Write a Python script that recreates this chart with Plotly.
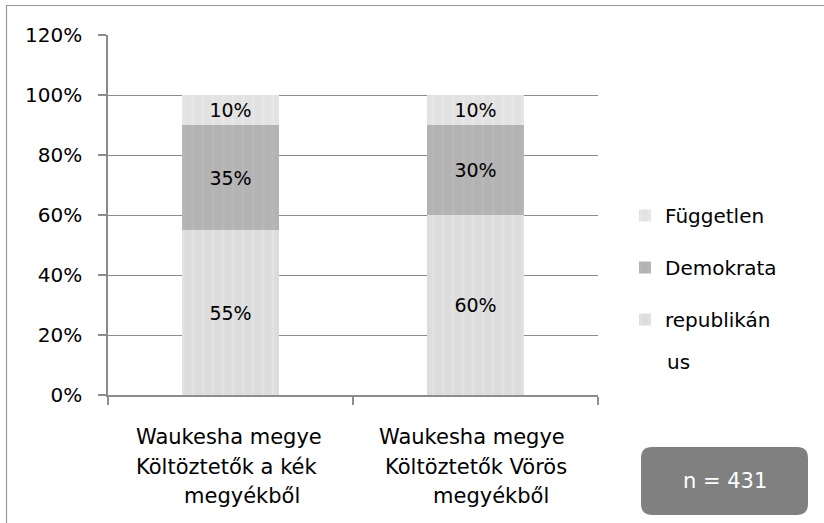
import plotly.graph_objects as go

# ---- data ----
categories = ["kek", "voros"]
label_lines = [
    ["Waukesha megye", "Költöztetők a kék", "megyékből"],
    ["Waukesha megye", "Költöztetők Vörös", "megyékből"],
]
label_shifts = [[-1.5, -4.5, 11.5], [-3.5, 0.5, 15.5]]
republikanus = [55, 60]
demokrata = [35, 30]
fuggetlen = [10, 10]
y_ticks = [0, 0.2, 0.4, 0.6, 0.8, 1.0, 1.2]
n_text = "n = 431"

FONT = "DejaVu Sans"
W, H = 824, 523
L, R, T, B = 108, 598, 35, 395  # plot area in px


def px_x(px):
    return (px - L) / (R - L)


def px_y(py):
    return (B - py) / (B - T)


series = [
    ("Független", fuggetlen, "#e2e2e2", "#ececec"),
    ("Demokrata", demokrata, "#b3b3b3", "#bcbcbc"),
    ("republikán", republikanus, "#dcdcdc", "#e7e7e7"),
]

fig = go.Figure()
for i, (name, vals, col, fg) in enumerate(series[::-1]):
    fig.add_trace(go.Bar(
        x=categories,
        y=[v / 100 for v in vals],
        name=name,
        legendgroup=name,
        legendrank=3 - i,
        text=[f"{v}%" for v in vals],
        textposition="inside",
        insidetextanchor="middle",
        textangle=0,
        textfont=dict(family=FONT, size=19, color="#000000"),
        marker=dict(color=col, line=dict(width=0),
                    pattern=dict(shape="|", fgcolor=fg, size=10, solidity=0.3)),
        hoverinfo="skip",
    ))

annotations = []
for ci, lines in enumerate(label_lines):
    for li, line in enumerate(lines):
        annotations.append(dict(
            x=categories[ci], xref="x", y=px_y(437 + li * 29.5), yref="paper",
            text=line, showarrow=False, xshift=label_shifts[ci][li],
            font=dict(family=FONT, size=21, color="#000000"),
            xanchor="center", yanchor="middle",
        ))

# continuation of the wrapped legend label
annotations.append(dict(
    x=px_x(665), y=px_y(362), xref="paper", yref="paper", text="us",
    showarrow=False, xanchor="left", yanchor="middle",
    font=dict(family=FONT, size=20, color="#000000"),
))

# n = 431 box
bx0, by0, bx1, by1, r = 641, 447, 808, 515, 11
rx = r / (R - L)
ry = r / (B - T)
X0, X1, Y0, Y1 = px_x(bx0), px_x(bx1), px_y(by1), px_y(by0)
path = (f"M{X0+rx},{Y1} L{X1-rx},{Y1} Q{X1},{Y1} {X1},{Y1-ry} "
        f"L{X1},{Y0+ry} Q{X1},{Y0} {X1-rx},{Y0} L{X0+rx},{Y0} "
        f"Q{X0},{Y0} {X0},{Y0+ry} L{X0},{Y1-ry} Q{X0},{Y1} {X0+rx},{Y1} Z")
shapes = [
    dict(type="rect", xref="paper", yref="paper",
         x0=px_x(6.5), x1=px_x(830), y0=px_y(530), y1=px_y(5.5),
         line=dict(color="#9a9a9a", width=1.2), fillcolor="rgba(0,0,0,0)", layer="below"),
    dict(type="path", xref="paper", yref="paper", path=path,
         fillcolor="#808080", line=dict(width=0)),
]
annotations.append(dict(
    x=px_x((bx0 + bx1) / 2), y=px_y((by0 + by1) / 2), xref="paper", yref="paper",
    text=n_text, showarrow=False, font=dict(family=FONT, size=21, color="#ffffff"),
    xanchor="center", yanchor="middle",
))

fig.update_layout(
    width=W, height=H,
    margin=dict(l=L, r=W - R, t=T, b=H - B, pad=0, autoexpand=False),
    barmode="stack",
    bargap=0.604,
    plot_bgcolor="#ffffff", paper_bgcolor="#ffffff",
    font=dict(family=FONT, size=20, color="#000000"),
    showlegend=True,
    legend=dict(
        x=px_x(625), xanchor="left", y=px_y(196), yanchor="top",
        traceorder="grouped", tracegroupgap=23, valign="middle",
        font=dict(family=FONT, size=20, color="#000000"),
        bgcolor="rgba(0,0,0,0)", itemclick=False,
    ),
    shapes=shapes,
    annotations=annotations,
)
fig.update_xaxes(
    type="category", showticklabels=False, showgrid=False,
    showline=True, linecolor="#8c8c8c", linewidth=1.5,
    ticks="outside", ticklen=8, tickcolor="#8c8c8c", tickwidth=1.5,
    tickson="boundaries", zeroline=False,
)
fig.update_yaxes(
    range=[0, 1.2], tickvals=y_ticks, tickformat=".0%",
    showgrid=True, gridcolor="#8c8c8c", gridwidth=1.2,
    showline=True, linecolor="#8c8c8c", linewidth=1.5,
    ticks="outside", ticklen=8, tickcolor="#8c8c8c", tickwidth=1.5,
    ticklabelstandoff=12,
    tickfont=dict(family=FONT, size=20, color="#000000"),
    zeroline=False,
)

fig.write_html("out.html", config={"displayModeBar": False},
               post_script="document.body.style.margin='0';")
